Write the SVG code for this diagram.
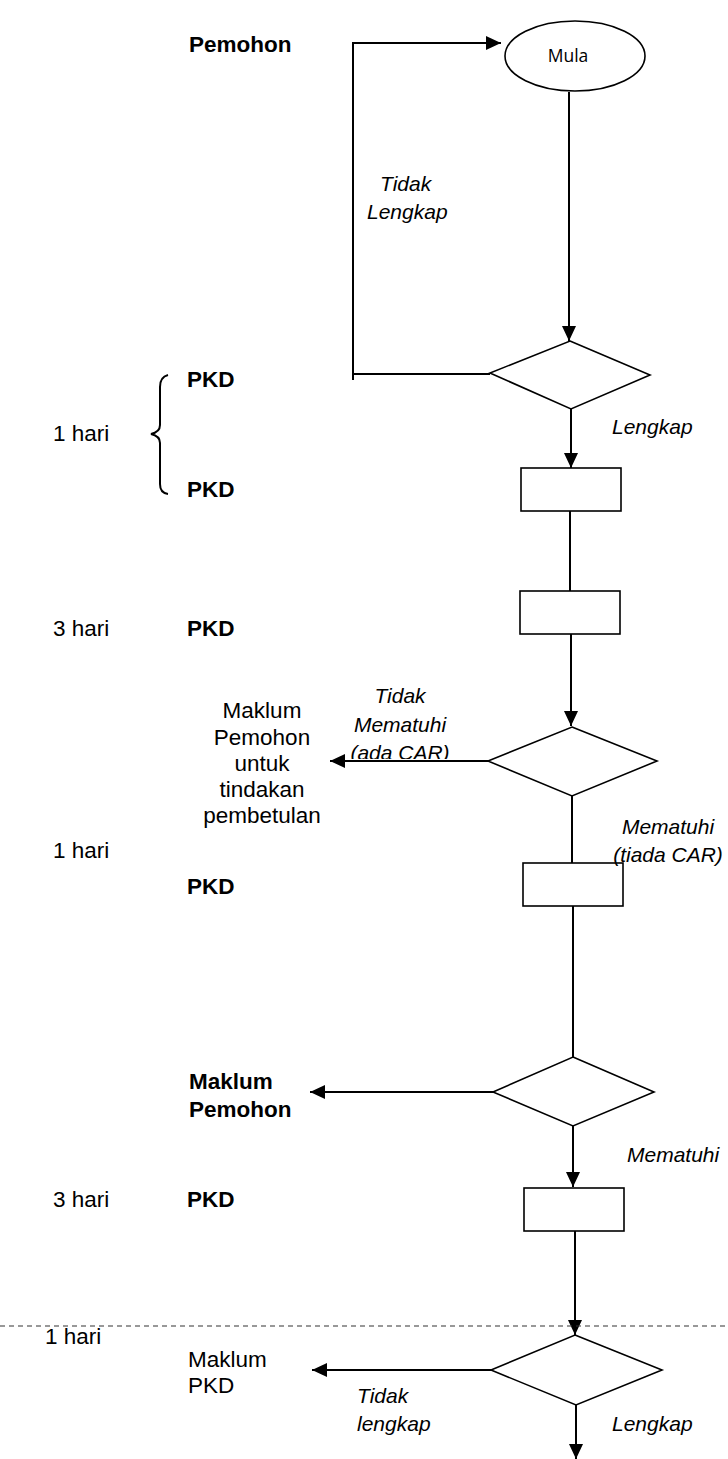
<svg xmlns="http://www.w3.org/2000/svg" width="728" height="1459" viewBox="0 0 728 1459">
<style>
.shape{fill:#fff;stroke:#000;stroke-width:1.6}
.line{fill:none;stroke:#000;stroke-width:2}
.t{font-family:"Liberation Sans",Arial,sans-serif;font-size:22.5px;fill:#000}
.b{font-weight:bold}
.i{font-style:italic;font-size:21px}
.m{font-family:"Open Sans","Noto Sans",sans-serif;font-size:17.5px;fill:#000}
</style>
<defs>
<marker id="ah" markerUnits="userSpaceOnUse" markerWidth="16" markerHeight="14" refX="15" refY="7" orient="auto">
<path d="M0,0 L15,7 L0,14 Z" fill="#000"/>
</marker>
<clipPath id="clipCar"><rect x="300" y="660" width="200" height="99"/></clipPath>
</defs>
<g id="connectors">
<path class="line" d="M569,92 L569,341" marker-end="url(#ah)"/>
<path class="line" d="M490,374 L353,374 M353,380 L353,43 L501,43" marker-end="url(#ah)"/>
<path class="line" d="M571,409 L571,468" marker-end="url(#ah)"/>
<path class="line" d="M570,511 L570,591"/>
<path class="line" d="M571,634 L571,726" marker-end="url(#ah)"/>
<path class="line" d="M488,761 L330,761" marker-end="url(#ah)"/>
<path class="line" d="M572,796 L572,863"/>
<path class="line" d="M573,906 L573,1057"/>
<path class="line" d="M493,1092 L310,1092" marker-end="url(#ah)"/>
<path class="line" d="M573,1126 L573,1187" marker-end="url(#ah)"/>
<path class="line" d="M575,1231 L575,1335" marker-end="url(#ah)"/>
<path class="line" d="M491,1370 L312,1370" marker-end="url(#ah)"/>
<path class="line" d="M576,1405 L576,1459" marker-end="url(#ah)"/>
<path d="M0,1326 L728,1326" fill="none" stroke="#333" stroke-width="1.2" stroke-dasharray="5,4"/>
<path class="line" stroke-width="1.5" d="M168,375 Q160,377 160,387 L160,425 Q160,432 151,434 Q160,436 160,443 L160,484 Q160,493 168,494"/>
</g>
<g id="start"><ellipse class="shape" cx="575" cy="56" rx="70" ry="35"/><text class="m" x="568" y="62" text-anchor="middle">Mula</text></g>
<g id="check1"><polygon class="shape" points="570,341 650,375 571,409 490,373"/></g>
<g id="box1"><rect class="shape" x="521" y="468" width="100" height="43"/></g>
<g id="box2"><rect class="shape" x="520" y="591" width="100" height="43"/></g>
<g id="check2"><polygon class="shape" points="572,727 657,761 572,796 488,761"/></g>
<g id="box3"><rect class="shape" x="523" y="863" width="100" height="43"/></g>
<g id="check3"><polygon class="shape" points="573,1057 654,1092 573,1126 493,1092"/></g>
<g id="box4"><rect class="shape" x="524" y="1188" width="100" height="43"/></g>
<g id="check4"><polygon class="shape" points="575,1335 662,1370 576,1405 491,1370"/></g>
<g id="labels">
<text class="t b" x="189" y="52">Pemohon</text>
<text class="t i" x="380" y="191">Tidak</text>
<text class="t i" x="367" y="219">Lengkap</text>
<text class="t b" x="187" y="387">PKD</text>
<text class="t" x="53" y="441">1 hari</text>
<text class="t b" x="187" y="497">PKD</text>
<text class="t i" x="612" y="434">Lengkap</text>
<text class="t" x="53" y="636">3 hari</text>
<text class="t b" x="187" y="636">PKD</text>
<text class="t i" x="400" y="703" text-anchor="middle">Tidak</text>
<text class="t i" x="400" y="732" text-anchor="middle">Mematuhi</text>
<text class="t i" x="400" y="760" text-anchor="middle" clip-path="url(#clipCar)">(ada CAR)</text>
<text class="t" x="262" y="718" text-anchor="middle">Maklum</text>
<text class="t" x="262" y="745" text-anchor="middle">Pemohon</text>
<text class="t" x="262" y="771" text-anchor="middle">untuk</text>
<text class="t" x="262" y="797" text-anchor="middle">tindakan</text>
<text class="t" x="262" y="823" text-anchor="middle">pembetulan</text>
<text class="t i" x="668" y="834" text-anchor="middle">Mematuhi</text>
<text class="t i" x="668" y="862" text-anchor="middle">(tiada CAR)</text>
<text class="t" x="53" y="858">1 hari</text>
<text class="t b" x="187" y="894">PKD</text>
<text class="t b" x="189" y="1089">Maklum</text>
<text class="t b" x="189" y="1117">Pemohon</text>
<text class="t i" x="627" y="1162">Mematuhi</text>
<text class="t" x="53" y="1207">3 hari</text>
<text class="t b" x="187" y="1207">PKD</text>
<text class="t" x="45" y="1344">1 hari</text>
<text class="t" x="188" y="1367">Maklum</text>
<text class="t" x="188" y="1393">PKD</text>
<text class="t i" x="357" y="1403">Tidak</text>
<text class="t i" x="357" y="1431">lengkap</text>
<text class="t i" x="612" y="1431">Lengkap</text>
</g>
</svg>
